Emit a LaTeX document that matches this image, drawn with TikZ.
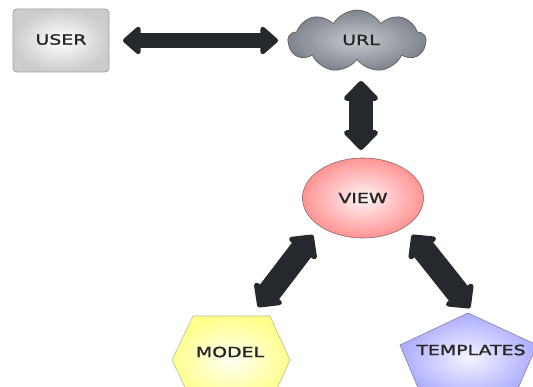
\documentclass[tikz,border=0pt]{standalone}
\usepackage{fontspec}
\newfontfamily\lblfont[FakeStretch=1.35,FakeBold=1.6]{DejaVu Sans}
\usetikzlibrary{shapes.geometric,shapes.symbols,arrows.meta}
\definecolor{arrowc}{HTML}{25282D}
\definecolor{txtc}{HTML}{262626}
\definecolor{cloudout}{HTML}{7E838D}
\definecolor{cloudin}{HTML}{C6C9CF}
\tikzset{
  lbl/.style={font=\lblfont\fontsize{14}{16}\selectfont, text=txtc, inner sep=0pt},
  fatH/.style={draw=arrowc, line width=15pt,
    {Triangle[length=19pt,width=32pt,round]}-{Triangle[length=19pt,width=32pt,round]}},
  fatV/.style={draw=arrowc, line width=24pt,
    {Triangle[length=21pt,width=40pt,round]}-{Triangle[length=21pt,width=40pt,round]}},
  fatD/.style={draw=arrowc, line width=24pt,
    {Triangle[length=20pt,width=40pt,round]}-{Triangle[length=20pt,width=40pt,round]}},
}
\begin{document}
\begin{tikzpicture}[x=1pt,y=-1pt]
\useasboundingbox (0,0) rectangle (533,387);
\clip (0,0) rectangle (533,387);
% USER
\node[draw=gray!75, line width=0.8pt, rounded corners=4pt, minimum width=96pt, minimum height=63pt,
      inner color=white, outer color=gray!40] (userbox) at (61,40.5) {};
\node[lbl] (user) at (61,39.5) {USER};
% URL cloud
\node[cloud, cloud puffs=9, cloud puff arc=120, aspect=2.3, draw=gray!70!black, line width=0.6pt,
      minimum width=138pt, minimum height=62pt, inner color=cloudin, outer color=cloudout,
      ] (urlcloud) at (357,41) {};
\node[lbl] (url) at (361,40) {URL};
% VIEW
\node[ellipse, draw=red!30!black!60, line width=0.6pt, minimum width=121pt, minimum height=80pt,
      inner color=red!4, outer color=red!42] (viewell) at (363,198) {};
\node[lbl] (view) at (363,198) {VIEW};
% MODEL hexagon
\path[draw=yellow!40!black!50, line width=0.6pt, inner color=yellow!5, outer color=yellow!45]
  (193,316) -- (270,316) -- (290,360) -- (270,404) -- (193,404) -- (172,360) -- cycle;
\node[lbl] (model) at (230,352) {MODEL};
% TEMPLATES pentagon
\path[draw=blue!30!black!50, line width=0.6pt, inner color=blue!4, outer color=blue!33]
  (468,313) -- (537,345) -- (512,402) -- (424,402) -- (400,345) -- cycle;
\node[lbl] (templates) at (471,350) {TEMPLATES};
% arrow endpoints
\coordinate (hA) at (123,40.5);
\coordinate (hB) at (278,40.5);
\coordinate (vA) at (361,81);
\coordinate (vB) at (361,150);
\coordinate (lA) at (313,235);
\coordinate (lB) at (258,307);
\coordinate (rA) at (412,235);
\coordinate (rB) at (470,308);
\draw[fatH] (hA) -- (hB);
\draw[fatV] (vA) -- (vB);
\draw[fatD] (lA) -- (lB);
\draw[fatD] (rA) -- (rB);
\end{tikzpicture}
\end{document}
